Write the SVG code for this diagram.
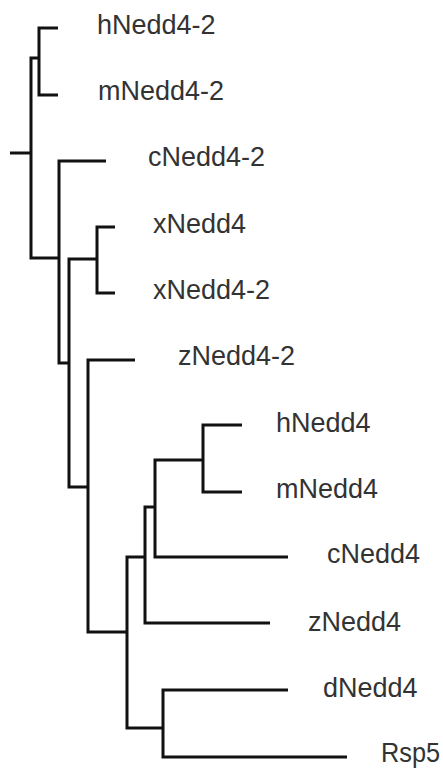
<svg xmlns="http://www.w3.org/2000/svg" width="443" height="769" viewBox="0 0 443 769">
<style>
.br{fill:none;stroke:#111;stroke-width:3;stroke-linejoin:miter;stroke-linecap:butt}
.lb{font-family:"Liberation Sans",Arial,sans-serif;font-size:27px;fill:#333}
</style>
<rect width="443" height="769" fill="#fff"/>
<g id="connectors">
<path class="br" d="M10,153 H31"/>
<path class="br" d="M39,58 H31 V258 H59"/>
<path class="br" d="M58,28 H39 V95 H58"/>
<path class="br" d="M106,161 H59 V363 H69"/>
<path class="br" d="M97,259 H69 V487 H88"/>
<path class="br" d="M115,227 H97 V293 H115"/>
<path class="br" d="M135,360 H88 V632 H127"/>
<path class="br" d="M145,557 H127 V728 H163"/>
<path class="br" d="M155,507 H145 V623 H270"/>
<path class="br" d="M203,460 H155 V557 H288"/>
<path class="br" d="M242,425 H203 V492 H242"/>
<path class="br" d="M288,690 H163 V757 H347"/>
</g>
<g id="hNedd4-2"><text class="lb" x="97" y="34">hNedd4-2</text></g>
<g id="mNedd4-2"><text class="lb" x="98" y="100">mNedd4-2</text></g>
<g id="cNedd4-2"><text class="lb" x="148" y="166">cNedd4-2</text></g>
<g id="xNedd4"><text class="lb" x="153" y="233">xNedd4</text></g>
<g id="xNedd4-2"><text class="lb" x="153" y="299">xNedd4-2</text></g>
<g id="zNedd4-2"><text class="lb" x="178" y="365">zNedd4-2</text></g>
<g id="hNedd4"><text class="lb" x="276" y="432">hNedd4</text></g>
<g id="mNedd4"><text class="lb" x="276" y="498">mNedd4</text></g>
<g id="cNedd4"><text class="lb" x="327" y="563">cNedd4</text></g>
<g id="zNedd4"><text class="lb" x="308" y="631">zNedd4</text></g>
<g id="dNedd4"><text class="lb" x="323" y="697">dNedd4</text></g>
<g id="Rsp5"><text class="lb" x="381" y="762" textLength="59" lengthAdjust="spacingAndGlyphs">Rsp5</text></g>
</svg>
